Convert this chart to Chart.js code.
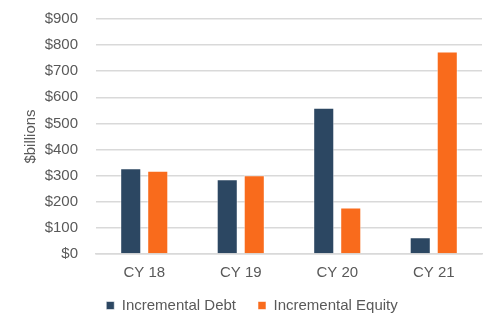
<!DOCTYPE html>
<html>
<head>
<meta charset="utf-8">
<script src="https://cdn.jsdelivr.net/npm/chart.js@4"></script>
<style>
  html, body { margin: 0; padding: 0; background: #fff; }
  #wrap { width: 500px; height: 329px; }
</style>
</head>
<body>
<div id="wrap"><canvas id="c" width="500" height="329"></canvas></div>
<script>
// Calendar years and incremental financing ($ billions)
const categories = ['CY 18', 'CY 19', 'CY 20', 'CY 21'];
const incrementalDebt = [328, 286, 560, 64];
const incrementalEquity = [319, 302, 178, 776];
const yTicks = [0, 100, 200, 300, 400, 500, 600, 700, 800, 900];

const textColor = '#595959';
const gridColor = '#d9d9d9';
const font = { family: "'Liberation Sans', Arial, sans-serif", size: 15 };

// Fixed legend box height, with its items drawn a few pixels higher
const legendFit = {
  id: 'legendFit',
  beforeInit(chart) {
    const legend = chart.legend;
    const fit = legend.fit;
    legend.fit = function () {
      fit.call(this);
      this.height = 46;
    };
    const draw = legend.draw;
    legend.draw = function () {
      const top = this.top;
      this.top = top - 5;
      draw.call(this);
      this.top = top;
    };
  }
};

new Chart(document.getElementById('c'), {
  type: 'bar',
  data: {
    labels: categories,
    datasets: [
      {
        label: 'Incremental Debt',
        data: incrementalDebt,
        backgroundColor: '#2c4762',
        borderColor: 'rgba(255,255,255,0.55)',
        borderWidth: 1
      },
      {
        label: 'Incremental Equity',
        data: incrementalEquity,
        backgroundColor: '#f96b1c',
        borderColor: 'rgba(255,255,255,0.55)',
        borderWidth: 1
      }
    ]
  },
  plugins: [legendFit],
  options: {
    responsive: false,
    animation: false,
    devicePixelRatio: 1,
    layout: { padding: { left: 22, right: 18, top: 19, bottom: 2 } },
    datasets: {
      bar: { categoryPercentage: 0.56, barPercentage: 0.78 }
    },
    scales: {
      x: {
        grid: { display: false, drawTicks: false },
        border: { display: true, color: gridColor, width: 1.5 },
        ticks: { color: textColor, font: font, padding: 10 },
        afterFit(scale) { scale.height = 27; }
      },
      y: {
        min: 0,
        max: 900,
        afterBuildTicks(scale) { scale.ticks = yTicks.map(v => ({ value: v })); },
        afterFit(scale) {
          scale.width = 74;
          scale.paddingTop = 0;
          scale.paddingBottom = 0;
        },
        grid: { color: gridColor, lineWidth: 1.5, drawTicks: false },
        border: { display: false },
        ticks: {
          color: textColor,
          font: font,
          padding: 18,
          callback: v => '$' + v
        },
        title: {
          display: true,
          text: '$billions',
          color: textColor,
          font: font,
          padding: { top: 0, bottom: 5 }
        }
      }
    },
    plugins: {
      legend: {
        position: 'bottom',
        labels: {
          color: textColor,
          font: font,
          boxWidth: 8,
          boxHeight: 8,
          padding: 22
        }
      },
      tooltip: { enabled: false }
    }
  }
});
</script>
</body>
</html>
